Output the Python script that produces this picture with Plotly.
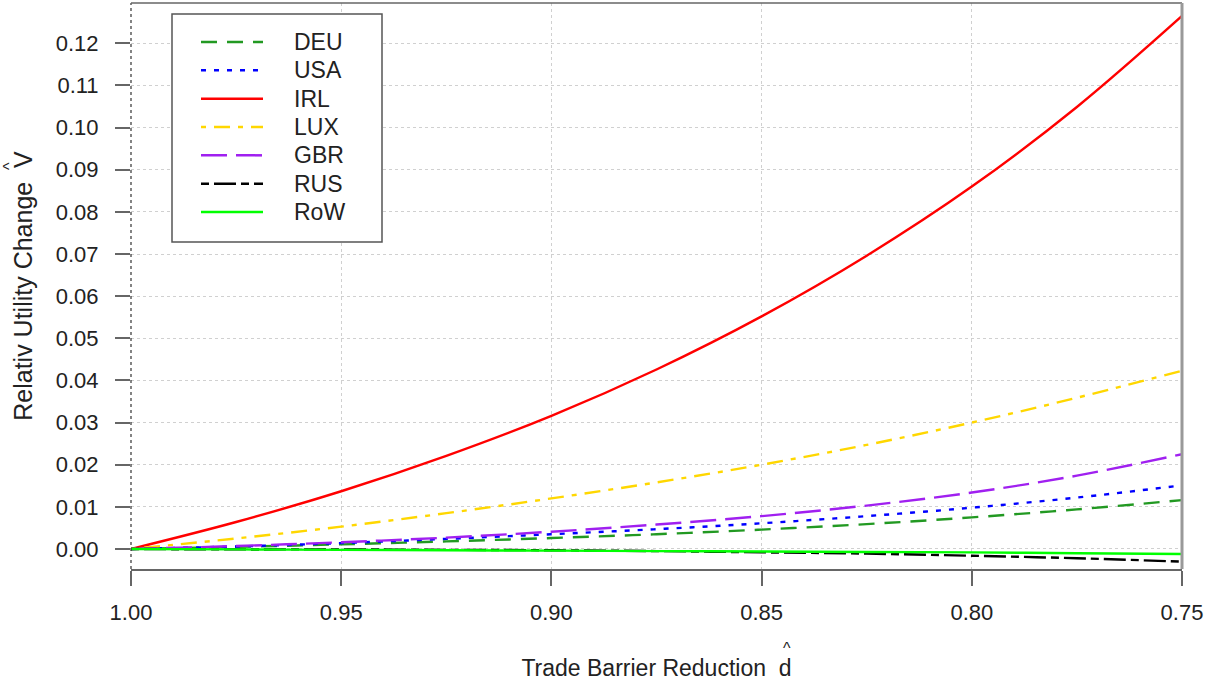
import plotly.graph_objects as go

d_hat = [1.0, 0.975, 0.95, 0.925, 0.9, 0.875, 0.85, 0.825, 0.8, 0.775, 0.75]

deu = [0, 0.0005, 0.0011, 0.0018, 0.0026, 0.0035, 0.0046, 0.0059, 0.0075, 0.0094, 0.0116]
usa = [0, 0.0006, 0.0014, 0.0024, 0.0035, 0.0047, 0.0061, 0.0078, 0.0098, 0.0122, 0.0151]
irl = [0, 0.0064, 0.0137, 0.0221, 0.0316, 0.0426, 0.0552, 0.0696, 0.0860, 0.1049, 0.1265]
lux = [0, 0.0025, 0.0053, 0.0085, 0.0120, 0.0158, 0.0200, 0.0247, 0.0300, 0.0359, 0.0423]
gbr = [0, 0.0007, 0.0016, 0.0027, 0.0041, 0.0058, 0.0078, 0.0103, 0.0134, 0.0174, 0.0225]
rus = [0, -0.0001, -0.0001, -0.0002, -0.0003, -0.0005, -0.0008, -0.0011, -0.0016, -0.0022, -0.0030]
row = [0, -0.0001, -0.0002, -0.0003, -0.0004, -0.0005, -0.0006, -0.0007, -0.0008, -0.0010, -0.0012]

countries = ["DEU", "USA", "IRL", "LUX", "GBR", "RUS", "RoW"]
series = [deu, usa, irl, lux, gbr, rus, row]
colors = ["#229922", "#0000FF", "#FF0000", "#FFD700", "#A020F0", "#000000", "#00FF00"]
dashes = ["16px,10px", "5px,8px", "solid", "5px,8px,16px,8px", "26px,9px", "8px,5px,22px,5px", "solid"]

x_ticks = [1.00, 0.95, 0.90, 0.85, 0.80, 0.75]
x_ticktext = ["1.00", "0.95", "0.90", "0.85", "0.80", "0.75"]
y_ticks = [0.00, 0.01, 0.02, 0.03, 0.04, 0.05, 0.06, 0.07, 0.08, 0.09, 0.10, 0.11, 0.12]
y_ticktext = ["%.2f" % v for v in y_ticks]

FONT = "Liberation Sans, Arial, sans-serif"
W, H = 1207, 681
ML, MR, MT, MB = 131, 25, 3, 112
PW, PH = W - ML - MR, H - MT - MB


def px(xp):
    return (xp - ML) / PW


def py(yp):
    return 1 - (yp - MT) / PH


fig = go.Figure()
for name, ys, c, dsh in zip(countries, series, colors, dashes):
    fig.add_trace(go.Scatter(
        x=d_hat, y=ys, name=name, mode="lines", showlegend=False,
        line=dict(color=c, width=2.4, dash=dsh, shape="spline"),
    ))

shapes = [
    dict(type="line", xref="paper", yref="paper", x0=0, x1=0, y0=0, y1=1,
         line=dict(color="#333333", width=1.2, dash="dot")),
    dict(type="line", xref="paper", yref="paper", x0=0, x1=1, y0=1, y1=1,
         line=dict(color="#666666", width=1.5)),
    dict(type="line", xref="paper", yref="paper", x0=1, x1=1, y0=0, y1=1,
         line=dict(color="#999999", width=3)),
    # legend box
    dict(type="rect", xref="paper", yref="paper", x0=px(172), x1=px(382), y0=py(242), y1=py(14),
         line=dict(color="#555555", width=1.5), fillcolor="white"),
]
annotations = []
row_y0, row_dy = 42, 28.33
for i, (name, c, dsh) in enumerate(zip(countries, colors, dashes)):
    yy = py(row_y0 + i * row_dy)
    shapes.append(dict(type="line", xref="paper", yref="paper", x0=px(201), x1=px(263), y0=yy, y1=yy,
                       line=dict(color=c, width=2.5, dash=dsh)))
    annotations.append(dict(xref="paper", yref="paper", x=px(292), y=yy, xanchor="left", yanchor="middle",
                            text=name, showarrow=False, font=dict(family=FONT, size=23, color="#222222")))

# hats for the axis-title symbols
annotations.append(dict(xref="paper", yref="paper", x=px(787), y=py(649), xanchor="center", yanchor="middle",
                        text="^", showarrow=False, font=dict(family=FONT, size=16, color="#222222")))
annotations.append(dict(xref="paper", yref="paper", x=px(9), y=py(166), xanchor="center", yanchor="middle",
                        text="^", textangle=-90, showarrow=False, font=dict(family=FONT, size=16, color="#222222")))

fig.update_layout(
    width=W, height=H,
    margin=dict(l=ML, r=MR, t=MT, b=MB),
    paper_bgcolor="white", plot_bgcolor="white",
    font=dict(family=FONT, color="#222222", size=22),
    showlegend=False,
    xaxis=dict(
        range=[1.0, 0.75], autorange=False, automargin=False,
        tickvals=x_ticks, ticktext=x_ticktext,
        ticks="outside", ticklen=15, tickwidth=2, tickcolor="#666666",
        showline=True, linecolor="#666666", linewidth=2, mirror=False,
        showgrid=True, gridcolor="#d0d0d0", griddash="dot", gridwidth=1,
        zeroline=False, ticklabelstandoff=8,
        tickfont=dict(size=22, color="#222222"),
        title=dict(text="Trade Barrier Reduction  d", font=dict(size=23, color="#222222"), standoff=36),
    ),
    yaxis=dict(
        range=[-0.00475, 0.12957], autorange=False, automargin=False,
        tickvals=y_ticks, ticktext=y_ticktext,
        ticks="outside", ticklen=15, tickwidth=2, tickcolor="#666666",
        showline=False,
        showgrid=True, gridcolor="#d0d0d0", griddash="dot", gridwidth=1,
        zeroline=False, ticklabelstandoff=12,
        tickfont=dict(size=22, color="#222222"),
        title=dict(text="Relativ Utility Change  V", font=dict(size=25, color="#222222"), standoff=16),
    ),
    shapes=shapes,
    annotations=annotations,
)

fig.write_html("out.html", config={"displayModeBar": False},
               post_script="document.body.style.margin='0px';")
